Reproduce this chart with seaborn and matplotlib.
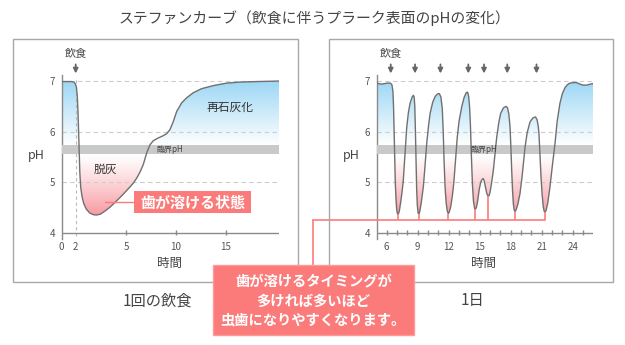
import numpy as np
import pandas as pd
import matplotlib
matplotlib.use("Agg")
import matplotlib.pyplot as plt
import seaborn as sns
from matplotlib.patches import Rectangle
from matplotlib.lines import Line2D
from matplotlib.colors import to_rgb

# ---------------- data ----------------
title = "ステファンカーブ（飲食に伴うプラーク表面のpHの変化）"

# left panel: one meal (x = axis position, tick labels give hours)
single_x = [0, 0.5, 1.0, 1.2, 1.35, 1.47, 1.56, 1.63, 1.69, 1.75, 1.81, 1.9, 2.03, 2.2,
            2.45, 2.8, 3.2, 3.5, 3.9, 4.33, 4.8, 5.33, 5.85, 6.33, 6.8, 7.16, 7.5, 7.83,
            8.16, 8.5, 8.83, 9.16, 9.6, 10.16, 10.5, 10.83, 11.16, 11.5, 12.0, 12.5,
            13.16, 14.0, 15.16, 16.5, 17.83, 19.5, 21.73]
single_ph = [6.99, 6.99, 6.99, 6.98, 6.95, 6.88, 6.7, 6.4, 6.0, 5.6, 5.2, 4.9, 4.72, 4.58,
             4.47, 4.39, 4.355, 4.35, 4.37, 4.43, 4.5, 4.6, 4.7, 4.8, 4.9, 4.98, 5.08, 5.2,
             5.35, 5.58, 5.74, 5.82, 5.87, 5.92, 5.96, 6.04, 6.2, 6.4, 6.57, 6.67,
             6.77, 6.85, 6.91, 6.96, 6.98, 6.99, 7.0]
single_tick_pos = [0, 1.4, 6.43, 11.43, 16.43]
single_tick_lab = ["0", "2", "5", "10", "15"]
single_meal_pos = [1.4]

# right panel: one day
day_h = [5.03, 5.2, 5.5, 5.8, 6.1, 6.35, 6.5, 6.6, 6.66, 6.72, 6.77, 6.83, 6.9, 6.97, 7.05,
         7.13, 7.22, 7.35, 7.48, 7.6, 7.75, 7.94, 8.1, 8.26, 8.45, 8.58, 8.66, 8.72, 8.78,
         8.84, 8.9, 8.96, 9.03, 9.1, 9.2, 9.35, 9.55, 9.7, 9.87, 10.05, 10.2, 10.45, 10.7,
         10.95, 11.1, 11.25, 11.38, 11.47, 11.55, 11.65, 11.75, 11.86, 11.96, 12.06, 12.2,
         12.35, 12.5, 12.65, 12.83, 13.0, 13.26, 13.5, 13.7, 13.83, 13.93, 14.02, 14.1,
         14.2, 14.3, 14.4, 14.5, 14.58, 14.68, 14.8, 14.95, 15.1, 15.25, 15.35, 15.45,
         15.58, 15.7, 15.8, 15.9, 16.0, 16.15, 16.32, 16.5, 16.65, 16.85, 17.03, 17.3,
         17.55, 17.7, 17.82, 17.94, 18.02, 18.1, 18.18, 18.26, 18.34, 18.42, 18.52, 18.7,
         18.9, 19.1, 19.25, 19.39, 19.6, 19.87, 20.15, 20.4, 20.55, 20.66, 20.74, 20.84,
         20.94, 21.05, 21.15, 21.25, 21.33, 21.43, 21.6, 21.8, 22.05, 22.29, 22.5, 22.77,
         23.0, 23.26, 23.5, 23.74, 24.1, 24.39, 24.7, 25.03, 25.4, 25.7, 26.0]
day_ph = [6.97, 6.95, 6.94, 6.95, 6.96, 6.96, 6.93, 6.8, 6.5, 6.0, 5.5, 5.0, 4.65, 4.45, 4.37,
          4.37, 4.43, 4.6, 4.8, 5.02, 5.5, 6.09, 6.38, 6.56, 6.68, 6.72, 6.68, 6.5, 6.0,
          5.4, 4.85, 4.55, 4.4, 4.37, 4.42, 4.6, 4.92, 5.3, 5.76, 6.12, 6.36, 6.58, 6.7,
          6.75, 6.75, 6.68, 6.45, 6.0, 5.43, 4.9, 4.6, 4.43, 4.38, 4.41, 4.52,
          4.72, 5.0, 5.4, 5.89, 6.2, 6.49, 6.68, 6.77, 6.78, 6.7, 6.5, 6.15,
          5.5, 4.95, 4.62, 4.49, 4.46, 4.5, 4.62, 4.85, 5.0, 5.06, 5.07, 5.02,
          4.88, 4.77, 4.73, 4.73, 4.8, 4.98, 5.23, 5.6, 5.89, 6.18, 6.36, 6.47,
          6.5, 6.47, 6.35, 6.09, 5.7, 5.23, 4.85, 4.57, 4.45, 4.42, 4.45, 4.57,
          4.77, 5.1, 5.4, 5.69, 5.98, 6.19, 6.27, 6.29, 6.24, 6.12, 5.96, 5.55,
          5.1, 4.75, 4.52, 4.42, 4.41, 4.44, 4.6, 4.9, 5.35, 5.76, 6.2, 6.56,
          6.75, 6.87, 6.93, 6.96, 6.97, 6.97, 6.94, 6.92, 6.92, 6.94, 6.95]
day_ticks = [6, 9, 12, 15, 18, 21, 24]
day_minor = list(range(6, 26))
day_meals = [6.39, 8.74, 11.2, 13.9, 15.42, 17.67, 20.5]
day_trough_h = [7.08, 9.08, 11.96, 14.58, 15.85, 18.42, 21.31]
day_trough_ph = [4.37, 4.37, 4.38, 4.46, 4.73, 4.42, 4.41]

ph_ticks = [4, 5, 6, 7]
critical_lo, critical_hi = 5.55, 5.735

# ---------------- style ----------------
sns.set_theme(style="white")
plt.rcParams['font.family'] = ['Noto Sans CJK JP', 'DejaVu Sans']

W, H = 625, 345
fig = plt.figure(figsize=(W / 100, H / 100), dpi=100)
fig.patch.set_facecolor("white")

def fx(x):
    return x / W

def fy(y):
    return 1 - y / H

BLUE = np.array(to_rgb("#9dd7f5"))
PINK = np.array(to_rgb("#f89aa2"))
LINE = "#707070"
AXC = "#8a8a8a"
TXT = "#444444"
RED = "#fb7b7b"
YLO, YHI = 3.88, 7.12


def gradient_image(n=400):
    ys = np.linspace(YLO, YHI, n)
    img = np.ones((n, 1, 4))
    for i, v in enumerate(ys):
        if v >= critical_hi:
            t = min(1.0, (v - critical_hi) / (7.0 - critical_hi))
            c = (1 - t) * np.ones(3) + t * BLUE
        elif v <= critical_lo:
            t = min(1.0, (critical_lo - v) / (critical_lo - 4.35)) ** 1.15
            c = (1 - t) * np.ones(3) + t * PINK
        else:
            c = np.ones(3)
        img[i, 0, :3] = c
    return img


def panel(ax, x, y, xlim, xlabel_x):
    ax.set_xlim(*xlim)
    ax.set_ylim(YLO, YHI)
    ax.set_facecolor("none")
    # gradient fill between curve and critical pH
    coll = ax.fill_between(x, y, (critical_lo + critical_hi) / 2, color="none", lw=0)
    im = ax.imshow(gradient_image(), extent=[xlim[0], xlim[1], YLO, YHI], origin="lower",
                   aspect="auto", interpolation="bilinear", zorder=1)
    im.set_clip_path(coll.get_paths()[0], ax.transData)
    # grid lines
    for v in [5, 6, 7]:
        ax.axhline(v, color="#cccccc", lw=0.8, ls=(0, (4, 3)), zorder=2)
    ax.axhspan(critical_lo, critical_hi, color="#c9c9c9", lw=0, zorder=3)
    ax.axhline(4, color=AXC, lw=1.0, zorder=3)
    df = pd.DataFrame({"x": x, "pH": y})
    sns.lineplot(data=df, x="x", y="pH", ax=ax, color=LINE, lw=1.0, sort=False,
                 estimator=None, zorder=4)
    for s in ["top", "right", "bottom"]:
        ax.spines[s].set_visible(False)
    ax.spines["left"].set_color(AXC)
    ax.spines["left"].set_linewidth(1.0)
    ax.set_yticks(ph_ticks)
    ax.set_yticklabels([str(v) for v in ph_ticks])
    ax.tick_params(axis="y", length=0, pad=5, labelsize=7, labelcolor="#555555")
    ax.tick_params(axis="x", length=0, pad=2.5, labelsize=7, labelcolor="#555555")
    ax.set_xlabel("")
    ax.set_ylabel("")
    ax.grid(False)
    ax.text(-0.115, 5.53, "pH", transform=ax.get_yaxis_transform(), ha="center",
            va="center", fontsize=9, color=TXT)
    ax.text(xlabel_x, 3.40, "時間", ha="center", va="center", fontsize=9, color=TXT)


def arrows(ax, xs, label_x):
    for xv in xs:
        ax.annotate("", xy=(xv, 7.15), xytext=(xv, 7.33),
                    arrowprops=dict(arrowstyle="-|>", color="#666666", lw=1.3,
                                    mutation_scale=7, shrinkA=0, shrinkB=0),
                    annotation_clip=False)
    ax.text(label_x, 7.53, "飲食", ha="center", va="center", fontsize=8, color=TXT,
            clip_on=False)


# frames
for (x0, x1) in [(13.3, 298.3), (329, 613.3)]:
    fig.add_artist(Rectangle((fx(x0), fy(282.3)), fx(x1 - x0), (282.3 - 39) / H,
                             transform=fig.transFigure, fill=False, ec="#a8a8a8",
                             lw=1.0, zorder=1))

# ---- left axes
axL = fig.add_axes([fx(61.7), fy(238.8), fx(217.3), 163.8 / H])
panel(axL, single_x, single_ph, (0, 21.73), 10.8)
axL.set_xticks(single_tick_pos)
axL.set_xticklabels(single_tick_lab)
axL.vlines(single_tick_pos[2:], 3.95, 4.05, color=AXC, lw=1.0, zorder=3)
axL.vlines(single_meal_pos, 3.93, 7.05, color="#bbbbbb", lw=0.8, ls=(0, (3, 2.5)), zorder=2)
arrows(axL, single_meal_pos, single_meal_pos[0])
axL.text(10.85, 5.645, "臨界pH", ha="center", va="center", fontsize=5.8, color=TXT, zorder=5)
axL.text(16.8, 6.48, "再石灰化", ha="center", va="center", fontsize=8.5, color="#333333", zorder=5)
axL.text(4.4, 5.25, "脱灰", ha="center", va="center", fontsize=8.5, color="#333333", zorder=5)

# ---- right axes
axR = fig.add_axes([fx(376.7), fy(238.8), fx(216.6), 163.8 / H])
panel(axR, day_h, day_ph, (5.03, 26.0), 15.4)
axR.set_xticks(day_ticks)
axR.set_xticklabels([str(v) for v in day_ticks])
axR.vlines(day_minor, 3.95, 4.05, color=AXC, lw=1.0, zorder=3)
arrows(axR, day_meals, day_meals[0])
axR.text(15.35, 5.645, "臨界pH", ha="center", va="center", fontsize=5.8, color=TXT, zorder=5)

# red connectors in right panel
conn_y = 4.25
axR.vlines(day_trough_h, conn_y, day_trough_ph, color=RED, lw=1.2, zorder=5)
axR.plot([-1.13, day_trough_h[-1]], [conn_y, conn_y], color=RED, lw=1.2, clip_on=False, zorder=5)
axR.plot([-1.13, -1.13], [conn_y, 3.3], color=RED, lw=1.2, clip_on=False, zorder=5)

# left callout
fig.add_artist(Line2D([fx(105), fx(134)], [fy(202), fy(202)], transform=fig.transFigure,
                      color=RED, lw=1.0, zorder=4))
fig.add_artist(Rectangle((fx(134), fy(213.3)), fx(117), 22.3 / H, transform=fig.transFigure,
                         fc=RED, ec="none", zorder=5))
fig.text(fx(192.5), fy(202.5), "歯が溶ける状態", ha="center", va="center", fontsize=10.8,
         color="white", weight="bold", zorder=6)

# big callout
fig.add_artist(Rectangle((fx(213), fy(335)), fx(201), 70 / H, transform=fig.transFigure,
                         fc=RED, ec="#ff9a9a", lw=1.0, zorder=5))
for yy, s in zip([282.3, 301.5, 320],
                 ["歯が溶けるタイミングが", "多ければ多いほど", "虫歯になりやすくなります。"]):
    fig.text(fx(313.5), fy(yy), s, ha="center", va="center", fontsize=10.3, color="white",
             weight="bold", zorder=6)

# titles
fig.text(fx(314.7), fy(18), title, ha="center", va="center", fontsize=10.7, color=TXT)
fig.text(fx(157), fy(301), "1回の飲食", ha="center", va="center", fontsize=11, color=TXT)
fig.text(fx(472), fy(301), "1日", ha="center", va="center", fontsize=11, color=TXT)

fig.savefig("out.png", dpi=100, facecolor="white")
